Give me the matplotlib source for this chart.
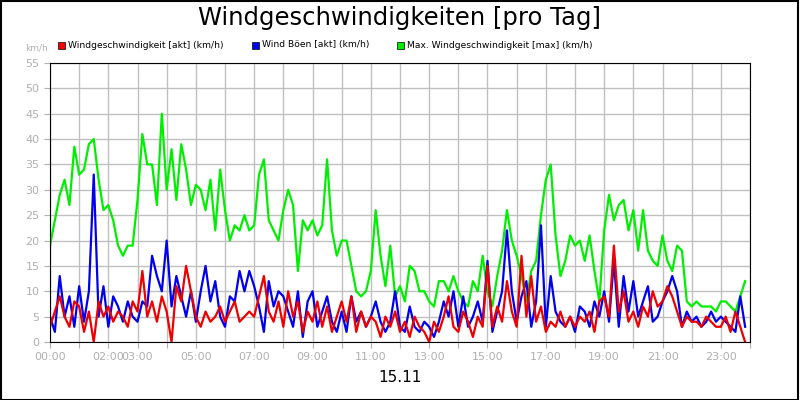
import numpy as np
import matplotlib
matplotlib.use("Agg")
import matplotlib.pyplot as plt
from matplotlib.patches import Rectangle

title = "Windgeschwindigkeiten [pro Tag]"
date_label = "15.11"
series_names = ["Windgeschwindigkeit [akt] (km/h)", "Wind Böen [akt] (km/h)",
                "Max. Windgeschwindigkeit [max] (km/h)"]
tick_labels = ["00:00", "02:00", "03:00", "05:00", "07:00", "09:00", "11:00",
               "13:00", "15:00", "17:00", "19:00", "21:00", "23:00"]
tick_hours = [0, 2, 3, 5, 7, 9, 11, 13, 15, 17, 19, 21, 23]

max_speed = [19,24,29,32,27,38.5, 33,34,39,40,32,26, 27,24,19,17,19,19,
             28,41,35,35,27,45, 30,38,28,39,34,27, 31,30,26,32,22,34,
             26,20,23,22,25,22, 23,33,36,24,22,20, 26,30,27,14,24,22,
             24,21,23,36,22,17, 20,20,15,10,9,10, 14,26,17,11,19,9,
             11,8,15,14,10,10, 8,7,12,12,10,13, 10,8,7,12,10,17,
             10,7,13,18,26,20, 17,13,8,14,16,25, 32,35,21,13,16,21,
             19,20,16,21,14,8, 22,29,24,27,28,22, 26,18,26,18,16,15,
             21,16,14,19,18,8, 7,8,7,7,7,6, 8,8,7,6,9,12]
gust = [5,2,13,5,9,3, 11,4,10,33,5,11, 3,9,7,4,8,5, 4,8,7,17,13,10,
        20,7,13,9,5,10, 4,10,15,8,12,5, 3,9,8,14,10,14, 11,7,2,12,7,10,
        9,6,3,10,1,8, 10,3,6,9,4,2, 6,2,9,4,6,3, 5,8,4,2,4,10,
        3,2,7,3,2,4, 3,1,4,8,5,10, 3,9,3,5,8,4, 16,2,6,10,22,10,
        4,9,12,3,8,23, 3,13,6,4,3,5, 2,7,6,3,8,5, 10,4,16,3,13,6,
        12,5,8,11,4,5, 8,10,13,10,3,6, 4,5,3,4,6,4, 5,4,3,2,9,3]
speed = [3,6,9,5,3,8, 7,2,6,0,8,5, 7,4,6,5,3,8, 6,14,5,8,4,9,
         6,0,11,8,15,10, 5,3,6,4,5,7, 4,6,8,4,5,6, 5,9,13,6,4,8,
         3,10,5,8,2,6, 4,8,3,7,2,5, 8,4,9,2,6,3, 5,4,1,5,3,6,
         2,4,1,5,3,2, 0,4,2,5,9,3, 2,6,4,1,5,3, 15,3,7,4,12,6,
         3,17,5,13,4,7, 2,4,3,6,3,5, 3,5,4,6,2,8, 9,5,19,6,10,4,
         6,3,7,5,10,7, 8,11,9,6,3,5, 4,4,3,5,4,3, 3,5,2,6,3,0]

hours = np.arange(len(speed)) * 24.0 / len(speed)

fig = plt.figure(figsize=(8, 4), dpi=100)
fig.patches.append(Rectangle((0.001, 0.001), 0.997, 0.996, transform=fig.transFigure,
                             fill=False, edgecolor="black", linewidth=1.5))
ax = fig.add_axes([50/800, 58/400, 700/800, 279/400])
grey = "#b0b0b0"
ax.set_xlim(0, 24)
ax.set_ylim(0, 55)
ax.set_yticks(range(0, 56, 5))
ax.set_xticks(range(0, 25))
ax.set_xticklabels([tick_labels[tick_hours.index(h)] if h in tick_hours else "" for h in range(25)])
ax.grid(True, color="#c0c0c0", linewidth=1)
ax.set_axisbelow(True)
ax.tick_params(colors=grey, labelsize=8, length=4)
for lbl in ax.get_xticklabels() + ax.get_yticklabels():
    lbl.set_color(grey)
for s in ax.spines.values():
    s.set_color("black")

ax.plot(hours, max_speed, color="#00ee00", lw=1.6)
ax.plot(hours, gust, color="#0000ee", lw=1.6)
ax.plot(hours, speed, color="#ee0000", lw=1.6)

fig.text(0.5, 0.955, title, ha="center", va="center", fontsize=17.5, color="black")
fig.text(37/800, 1 - 48/400, "km/h", ha="center", va="center", fontsize=6.5, color=grey)
fig.text(0.5, 1 - 378/400, date_label, ha="center", va="center", fontsize=11)

colors = ["#ff0000", "#0000ff", "#00ee00"]
xs = [58, 252, 397]
for x, c, n in zip(xs, colors, series_names):
    fig.patches.append(Rectangle((x/800, 1 - 49/400), 7/800, 7/400, transform=fig.transFigure,
                                 facecolor=c, edgecolor="black", linewidth=0.5))
    fig.text((x + 10)/800, 1 - 45/400, n, ha="left", va="center", fontsize=6.6)

fig.savefig("out.png", dpi=100)
